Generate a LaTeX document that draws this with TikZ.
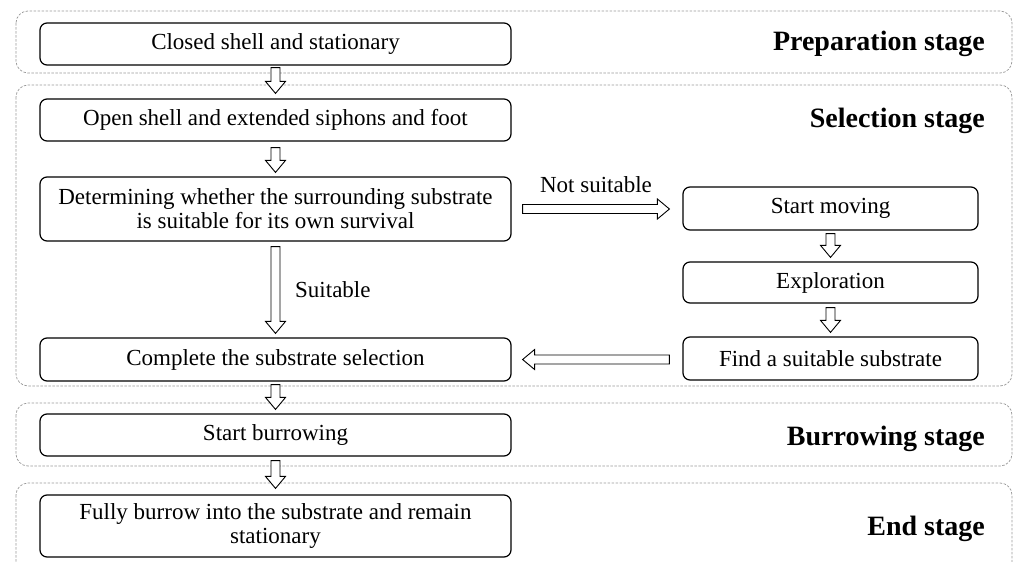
\documentclass[tikz,border=0pt]{standalone}
\usepackage{fontspec}
\setmainfont{Liberation Serif}
\usetikzlibrary{calc}
\newcommand\bodyfont{\rmfamily\fontsize{23}{24}\selectfont}
\newcommand\stagefont{\rmfamily\fontsize{28}{30}\selectfont\bfseries}
\tikzset{
 box/.style={draw, line width=1.2pt, rounded corners=7pt, align=center, font=\bodyfont, inner sep=0pt},
 leftbox/.style={box, minimum width=471pt},
 rightbox/.style={box, minimum width=295pt},
 stagebox/.style={draw=gray!80, dash pattern=on 2.5pt off 1.5pt, line width=0.7pt, rounded corners=12pt},
 blk/.style={draw, line width=0.9pt, fill=white, line join=miter},
 stagelabel/.style={font=\stagefont, anchor=base east, inner sep=0pt},
 lbl/.style={font=\bodyfont, inner sep=0pt}
}
\newcommand\varrow[2]{\draw[blk] let \p1=(#1), \p2=(#2) in
  (\x1-4.5pt,\y1) -- (\x1+4.5pt,\y1) -- (\x1+4.5pt,\y2+12pt) -- (\x1+10pt,\y2+12pt) -- (\x1,\y2)
  -- (\x1-10pt,\y2+12pt) -- (\x1-4.5pt,\y2+12pt) -- cycle;}
\newcommand\rarrow[2]{\draw[blk] let \p1=(#1), \p2=(#2) in
  (\x1,\y1+4.5pt) -- (\x2-12pt,\y1+4.5pt) -- (\x2-12pt,\y1+10pt) -- (\x2,\y1)
  -- (\x2-12pt,\y1-10pt) -- (\x2-12pt,\y1-4.5pt) -- (\x1,\y1-4.5pt) -- cycle;}
\newcommand\larrow[2]{\draw[blk] let \p1=(#1), \p2=(#2) in
  (\x1,\y1+4.5pt) -- (\x2+12pt,\y1+4.5pt) -- (\x2+12pt,\y1+10pt) -- (\x2,\y1)
  -- (\x2+12pt,\y1-10pt) -- (\x2+12pt,\y1-4.5pt) -- (\x1,\y1-4.5pt) -- cycle;}
\begin{document}
\begin{tikzpicture}[x=1pt,y=-1pt]
\useasboundingbox (0,0) rectangle (1013,562);
\begin{scope}
\clip (0,0) rectangle (1013,562);
\draw[stagebox] (16,11) rectangle (1012,73);
\draw[stagebox] (16,85) rectangle (1012,386);
\draw[stagebox] (16,403) rectangle (1012,466);
\draw[stagebox] (16,483) rectangle (1012,590);
\end{scope}

\node[stagelabel] (prep) at (985,50) {Preparation stage};
\node[stagelabel] (sel) at (985,127) {Selection stage};
\node[stagelabel] (bur) at (985,445) {Burrowing stage};
\node[stagelabel] (endst) at (985,535) {End stage};

\node[leftbox, minimum height=42pt] (closed) at (275.5,44) {Closed shell and stationary};
\node[leftbox, minimum height=42pt] (open) at (275.5,120) {Open shell and extended siphons and foot};
\node[leftbox, minimum height=64pt] (det) at (275.5,209) {Determining whether the surrounding substrate\\is suitable for its own survival};
\node[leftbox, minimum height=43pt] (complete) at (275.5,359.5) {Complete the substrate selection};
\node[leftbox, minimum height=42pt] (burrow) at (275.5,435) {Start burrowing};
\node[leftbox, minimum height=62pt] (fully) at (275.5,526) {Fully burrow into the substrate and remain\\stationary};

\node[rightbox, minimum height=43pt] (moving) at (830.5,208.5) {Start moving};
\node[rightbox, minimum height=41pt] (explor) at (830.5,282.5) {Exploration};
\node[rightbox, minimum height=43pt] (find) at (830.5,358.5) {Find a suitable substrate};

\varrow{$(closed.south)+(0,2)$}{$(open.north)+(0,-5)$}
\varrow{$(open.south)+(0,6)$}{$(det.north)+(0,-4)$}
\varrow{$(det.south)+(0,5)$}{$(complete.north)+(0,-4)$}
\varrow{$(complete.south)+(0,3)$}{$(burrow.north)+(0,-4)$}
\varrow{$(burrow.south)+(0,4)$}{$(fully.north)+(0,-6)$}
\varrow{$(moving.south)+(0,3)$}{$(explor.north)+(0,-4)$}
\varrow{$(explor.south)+(0,4)$}{$(find.north)+(0,-4)$}
\rarrow{$(det.east)+(11,0)$}{$(moving.west|-det.east)+(-13,0)$}
\larrow{$(find.west|-complete.east)+(-13,0)$}{$(complete.east)+(11,0)$}

\node[lbl, anchor=base] (ns) at (596,192) {Not suitable};
\node[lbl, anchor=base west] (suit) at (295,297) {Suitable};
\end{tikzpicture}
\end{document}
